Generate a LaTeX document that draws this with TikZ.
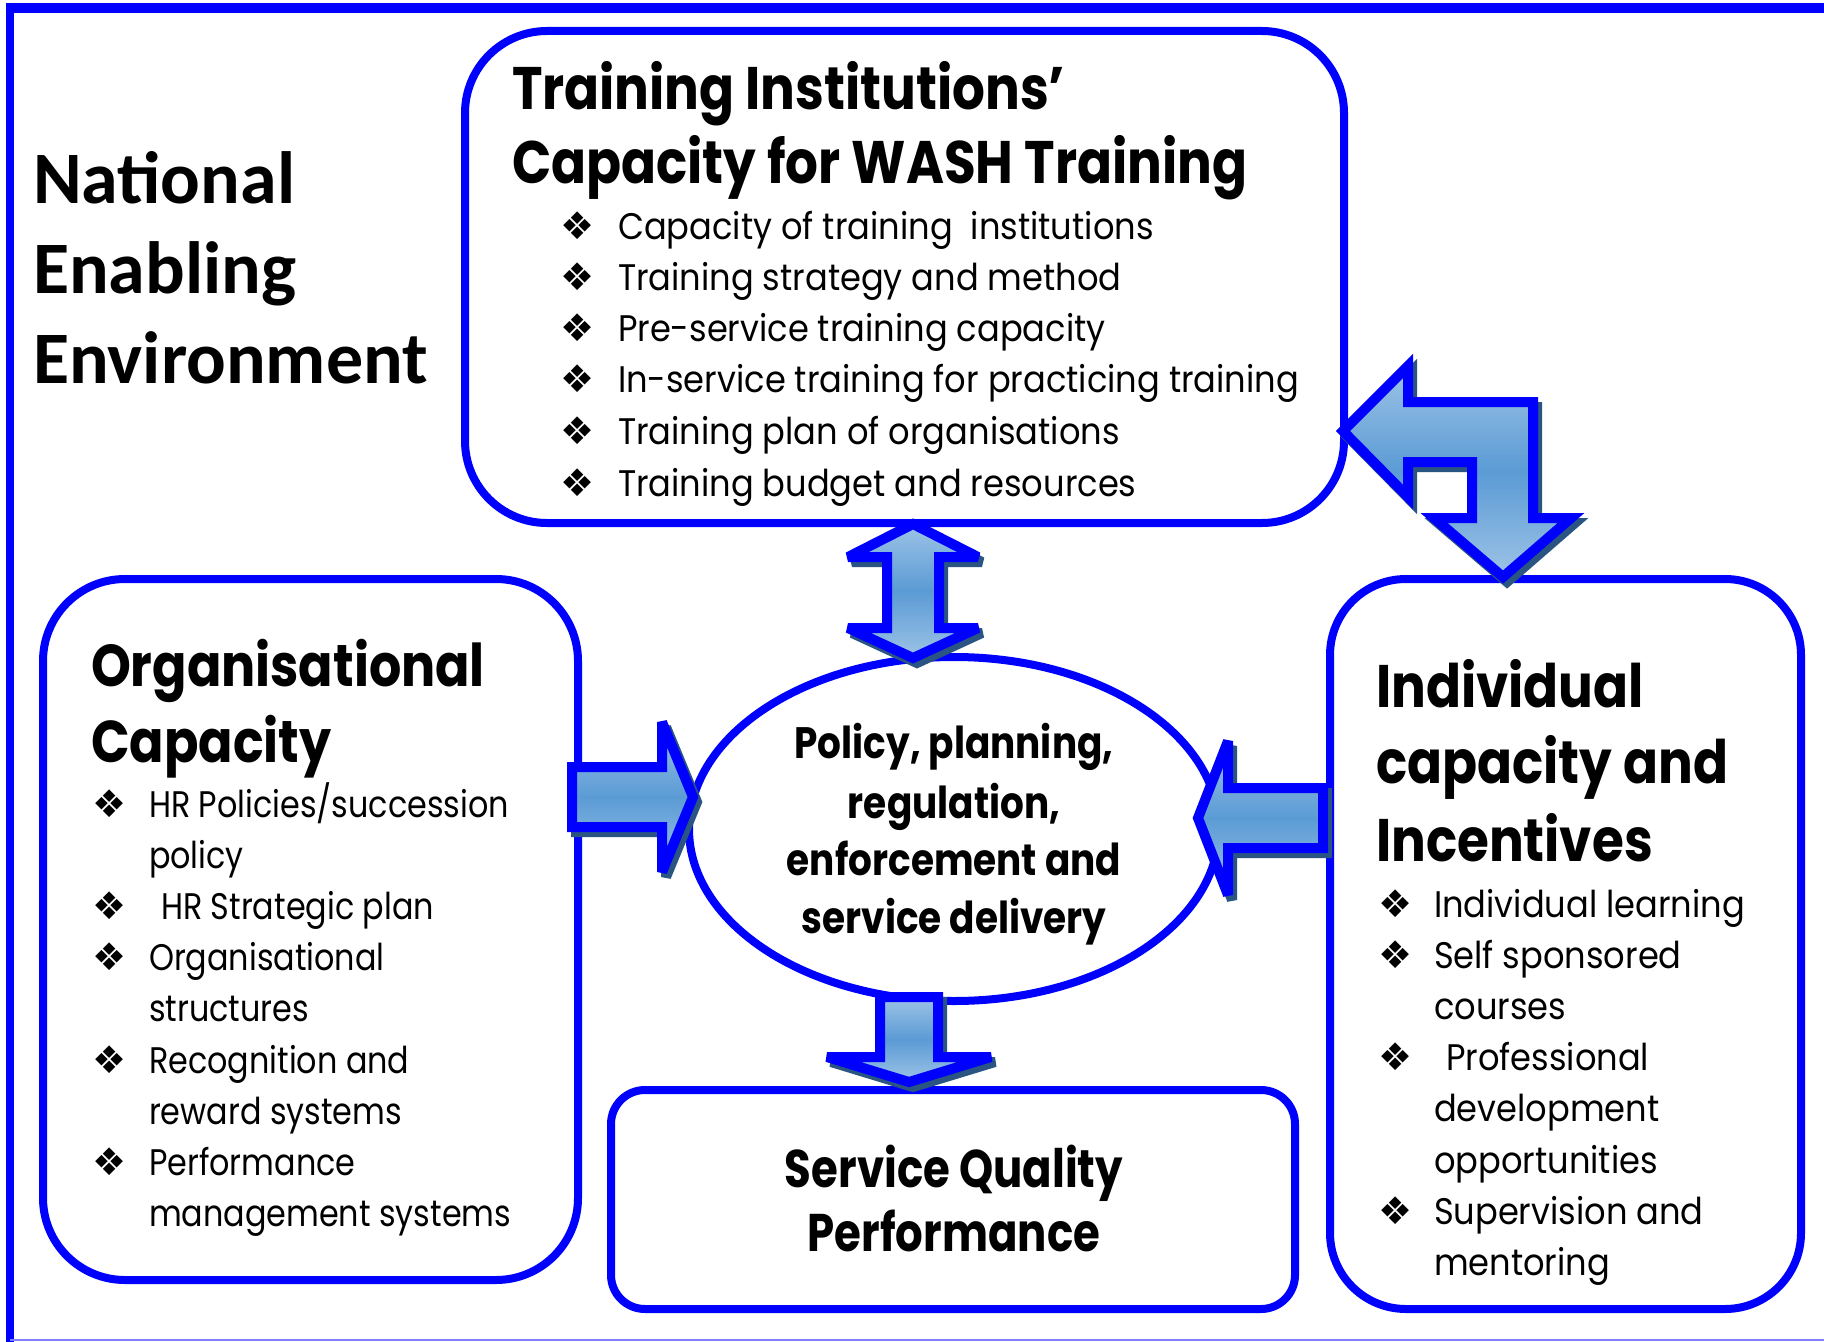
\documentclass[tikz,border=0pt]{standalone}
\usepackage{fontspec}
\usetikzlibrary{shapes.geometric}
\setmainfont{Poppins}
\newfontfamily\titlefont{Carlito}
\newfontfamily\headfont[FakeStretch=0.86]{Poppins}
\newfontfamily\corefont[FakeStretch=0.85]{Poppins}
\newfontfamily\qualfont[FakeStretch=0.82]{Poppins}
\newfontfamily\itemfont[FakeStretch=0.91]{Poppins}
\newfontfamily\orgitemfont[FakeStretch=0.86]{Poppins}
\newfontfamily\dingfont{DejaVu Sans}
\newcommand\fsz[1]{\fontsize{#1}{#1}\selectfont}
\definecolor{frameblue}{HTML}{0000FF}
\definecolor{arrowlight}{HTML}{9DC3E6}
\definecolor{arrowmid}{HTML}{5B9BD5}
\definecolor{arrowshadow}{HTML}{2A5583}
\newcommand\shadedarrow[1]{%
  \draw[arrowshade, shift={(4,5)}] #1 -- cycle;
  \draw[blockarrow] #1 -- cycle;
}
\begin{document}
\begin{tikzpicture}[x=0.5pt, y=-0.5pt,
  panel/.style={draw=frameblue, line width=4pt, rectangle, inner sep=0pt, outer sep=0pt},
  lbl/.style={inner sep=0pt, outer sep=0pt, anchor=base west},
  clbl/.style={inner sep=0pt, outer sep=0pt, anchor=base},
  blockarrow/.style={draw=frameblue, line width=5pt, line join=miter, miter limit=4,
    top color=arrowlight, bottom color=arrowlight, middle color=arrowmid},
  arrowshade/.style={draw=arrowshadow, fill=arrowshadow, line width=5pt, line join=miter, miter limit=4},
  bullet/.style={lbl, font=\dingfont\fsz{19pt}},
  topitem/.style={lbl, font=\itemfont\fsz{18.5pt}},
  orgitem/.style={lbl, font=\orgitemfont\fsz{18.5pt}},
  heading/.style={lbl, font=\headfont\bfseries\fsz{30pt}},
  coretext/.style={clbl, font=\corefont\bfseries\fsz{22pt}},
  qualtext/.style={clbl, font=\qualfont\bfseries\fsz{26.5pt}}]
\useasboundingbox (0,0) rectangle (1824,1342);
\fill[white] (0,0) rectangle (1824,1342);

% outer frame
\draw[frameblue, line width=5pt] (6,8) -- (1824,8);
\draw[frameblue, line width=4pt] (10,4) -- (10,1342);
\draw[frameblue!50, line width=1.2pt] (10,1340) -- (1824,1340);

% panels
\node[panel, rounded corners=41pt, minimum width=439.5pt, minimum height=246pt] (training) at (904.5,277) {};
\node[panel, rounded corners=41pt, minimum width=267.5pt, minimum height=350.5pt] (org) at (310.5,929.5) {};
\node[panel, rounded corners=38pt, minimum width=235.5pt, minimum height=365pt] (indiv) at (1565.5,944) {};
\node[panel, rounded corners=17pt, minimum width=342pt, minimum height=109.5pt] (quality) at (953,1199.5) {};
\node[draw=frameblue, line width=4pt, ellipse, inner sep=0pt, minimum width=265pt, minimum height=172pt] (core) at (954,829) {};

% title
\node[lbl, font=\titlefont\bfseries\fsz{37pt}] (nat1) at (33,204) {National};
\node[lbl, font=\titlefont\bfseries\fsz{37pt}] (nat2) at (33,294) {Enabling};
\node[lbl, font=\titlefont\bfseries\fsz{37pt}] (nat3) at (33,384) {Environment};

% training institutions panel
\node[heading] (th1) at (512,110) {Training Institutions’};
\node[heading] (th2) at (512,184) {Capacity for WASH Training};
\foreach \y/\t [count=\i] in {240/{Capacity of training\ \ institutions},
    291/{Training strategy and method},
    342/{Pre-service training capacity},
    393/{In-service training for practicing training},
    444/{Training plan of organisations},
    496/{Training budget and resources}} {
  \node[bullet] (tb\i) at (560,\y) {❖};
  \node[topitem] (tt\i) at (618,\y) {\t};
}

% organisational panel
\node[heading, font=\headfont\bfseries\fsz{29.5pt}] (oh1) at (91,686) {Organisational};
\node[heading, font=\headfont\bfseries\fsz{29.5pt}] (oh2) at (91,762) {Capacity};
\foreach \y/\b/\t [count=\i] in {817/1/{HR Policies/succession},
    868/0/{policy},
    919/1/{\hspace{6pt}HR Strategic plan},
    970/1/{Organisational},
    1021/0/{structures},
    1073/1/{Recognition and},
    1124/0/{reward systems},
    1175/1/{Performance},
    1226/0/{management systems}} {
  \ifnum\b=1 \node[bullet] (ob\i) at (92,\y) {❖};\fi
  \node[orgitem] (ot\i) at (149,\y) {\t};
}

% individual panel
\node[heading] (ih1) at (1376,707) {Individual};
\node[heading] (ih2) at (1376,783) {capacity and};
\node[heading] (ih3) at (1376,861) {Incentives};
\foreach \y/\b/\t [count=\i] in {917/1/{Individual learning},
    968/1/{Self sponsored},
    1019/0/{courses},
    1070/1/{\hspace{6pt}Professional},
    1121/0/{development},
    1173/0/{opportunities},
    1224/1/{Supervision and},
    1275/0/{mentoring}} {
  \ifnum\b=1 \node[bullet] (ib\i) at (1378,\y) {❖};\fi
  \node[topitem] (it\i) at (1434,\y) {\t};
}

% core ellipse text
\node[coretext] (c1) at (954,758) {Policy, planning,};
\node[coretext] (c2) at (954,818) {regulation,};
\node[coretext] (c3) at (954,875) {enforcement and};
\node[coretext] (c4) at (954,933) {service delivery};

% service quality text
\node[qualtext] (q1) at (954,1187) {Service Quality};
\node[qualtext] (q2) at (954,1251) {Performance};

% block arrows
% bent arrow: training <-> individual
\shadedarrow{(1343,431) -- (1408,366) -- (1408,402) -- (1533,402) -- (1533,518) -- (1571,518)
  -- (1503,577) -- (1434,518) -- (1472,518) -- (1472,462) -- (1408,462) -- (1408,497)}
% double arrow: training <-> core
\shadedarrow{(913,524) -- (978,557) -- (939,557) -- (939,628) -- (978,628) -- (913,658)
  -- (848,628) -- (887,628) -- (887,557) -- (848,557)}
% org -> core
\shadedarrow{(572,767) -- (662,767) -- (662,722) -- (693,797) -- (662,872) -- (662,827) -- (572,827)}
% individual -> core
\shadedarrow{(1323,788) -- (1228,788) -- (1228,741) -- (1198,818) -- (1228,895) -- (1228,848) -- (1323,848)}
% core -> quality
\shadedarrow{(880,997) -- (938,997) -- (938,1057) -- (991,1057) -- (909,1082) -- (827,1057) -- (880,1057)}
\end{tikzpicture}
\end{document}
